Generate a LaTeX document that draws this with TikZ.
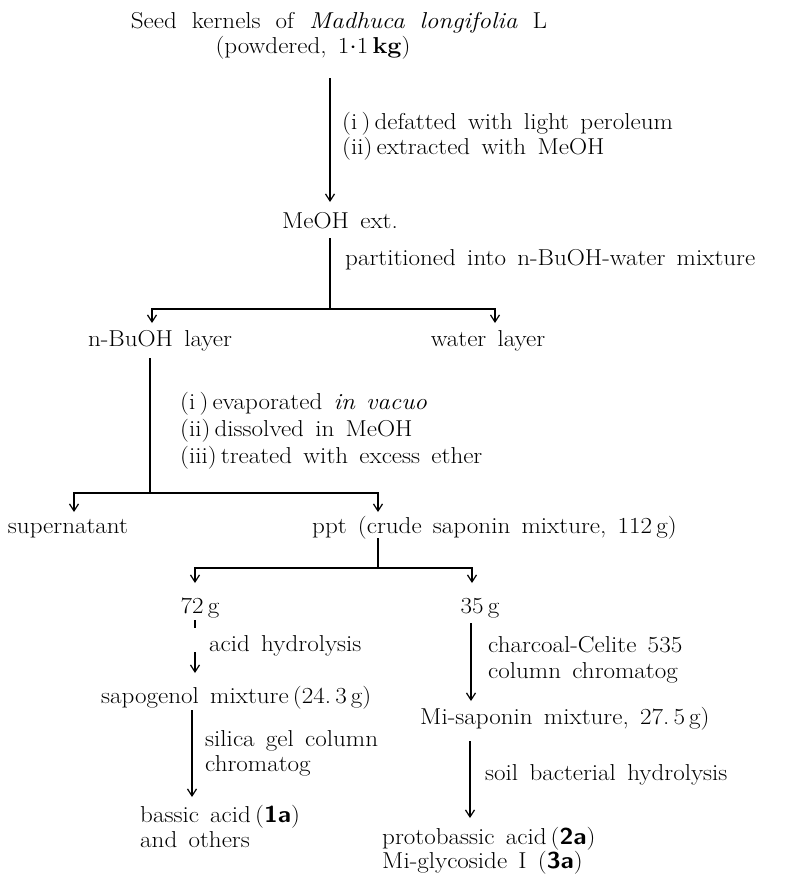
\documentclass[tikz,border=0pt]{standalone}
\usetikzlibrary{arrows.meta}
\usepackage{graphicx}
\newcommand\dfont{\fontsize{23}{26}\selectfont\spaceskip=.45em plus .1em minus .05em\relax}
\newcommand\T[1]{\scalebox{1.09}[1]{#1}}
\newcommand\cpd[1]{\textsf{\bfseries #1}}
\begin{document}
\begin{tikzpicture}[x=1pt,y=-1pt,
  ctr/.style={inner sep=0pt, font=\dfont, anchor=base},
  lft/.style={inner sep=0pt, font=\dfont, anchor=base west},
  ln/.style={line width=1.2pt, line join=miter},
  arr/.style={ln, -{Straight Barb[length=7pt,width=9pt,line width=1.2pt]}}]
\useasboundingbox (0,0) rectangle (786,876);
% texts
\node[ctr] (t1) at (339,28) {\T{\spaceskip=.6em\relax Seed kernels of \textit{Madhuca longifolia} L}};
\node[ctr] (t2) at (313,53) {\T{(powdered, 1$\cdot$1\,\textbf{kg})}};
\node[lft] (l1a) at (342,129) {\T{(i\,)\,defatted with light peroleum}};
\node[lft] (l1b) at (342,154) {\T{(ii)\,extracted with MeOH}};
\node[ctr] (meoh) at (340,228) {\T{MeOH ext.}};
\node[lft] (l2) at (345,265) {\T{partitioned into n-BuOH-water mixture}};
\node[ctr] (buoh) at (160,346) {\T{n-BuOH layer}};
\node[ctr] (water) at (488,346) {\T{water layer}};
\node[lft] (l3a) at (180,409) {\T{(i\,)\,evaporated \textit{in vacuo}}};
\node[lft] (l3b) at (180,436) {\T{(ii)\,dissolved in MeOH}};
\node[lft] (l3c) at (180,463) {\T{(iii)\,treated with excess ether}};
\node[ctr] (super) at (68,533) {\T{supernatant}};
\node[lft] (ppt) at (312,533) {\T{ppt (crude saponin mixture, 112\,g)}};
\node[ctr] (g72) at (200,613) {\T{72\,g}};
\node[ctr] (g35) at (480,613) {\T{35\,g}};
\node[lft] (l4) at (209,651) {\T{acid hydrolysis}};
\node[lft] (sapo) at (101,703) {\T{sapogenol mixture\,(24.\,3\,g)}};
\node[lft] (l5a) at (205,746) {\T{silica gel column}};
\node[lft] (l5b) at (205,771) {\T{chromatog}};
\node[lft] (bassic) at (140,822) {\T{bassic acid\,(\cpd{1a})}};
\node[lft] (others) at (140,847) {\T{and others}};
\node[lft] (l6a) at (488,652) {\T{charcoal-Celite 535}};
\node[lft] (l6b) at (488,678) {\T{column chromatog}};
\node[lft] (misap) at (420,724) {\T{Mi-saponin mixture, 27.\,5\,g)}};
\node[lft] (l7) at (485,780) {\T{soil bacterial hydrolysis}};
\node[lft] (proto) at (382,844) {\T{protobassic acid\,(\cpd{2a})}};
\node[lft] (migly) at (382,868) {\T{Mi-glycoside I (\cpd{3a})}};
% junction and end coordinates
\coordinate (a1s) at (330,78);   \coordinate (a1e) at (330,202);
\coordinate (a2s) at (330,238);  \coordinate (j2) at (330,309);
\coordinate (e2l) at (152,323);  \coordinate (e2r) at (495,323);
\coordinate (a3s) at (150,358);  \coordinate (j3) at (150,493);
\coordinate (e3l) at (74,512);   \coordinate (e3r) at (378,512);
\coordinate (a4s) at (378,538);  \coordinate (j4) at (378,568);
\coordinate (e4l) at (195,583);  \coordinate (e4r) at (472,583);
\coordinate (a5s) at (195,620);  \coordinate (a5e) at (195,673);
\coordinate (a6s) at (192,710);  \coordinate (a6e) at (192,797);
\coordinate (a7s) at (471,623);  \coordinate (a7e) at (471,701);
\coordinate (a8s) at (470,741);  \coordinate (a8e) at (470,818);
% connectors
\draw[arr] (a1s) -- (a1e);
\draw[ln] (a2s) -- (j2);
\draw[arr] (j2) -| (e2l);
\draw[arr] (j2) -| (e2r);
\draw[ln] (a3s) -- (j3);
\draw[arr] (j3) -| (e3l);
\draw[arr] (j3) -| (e3r);
\draw[ln] (a4s) -- (j4);
\draw[arr] (j4) -| (e4l);
\draw[arr] (j4) -| (e4r);
\draw[arr, dash pattern=on 8pt off 24pt on 60pt] (a5s) -- (a5e);
\draw[arr] (a6s) -- (a6e);
\draw[arr] (a7s) -- (a7e);
\draw[arr] (a8s) -- (a8e);
\end{tikzpicture}
\end{document}
